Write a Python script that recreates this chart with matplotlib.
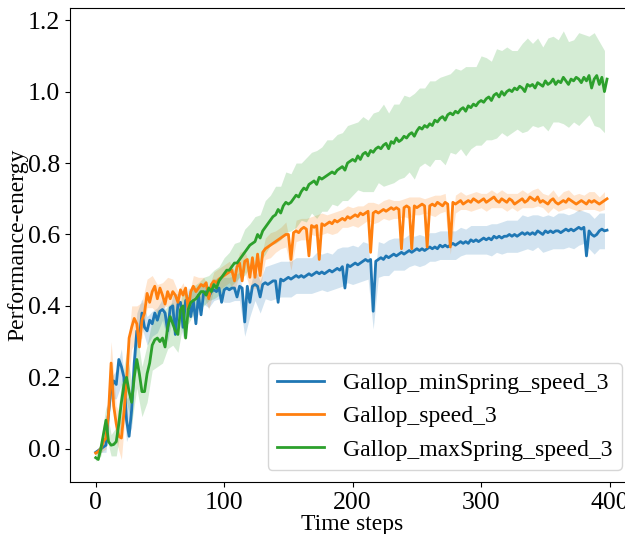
import numpy as np
import matplotlib
matplotlib.use("Agg")
import matplotlib.pyplot as plt

plt.rcParams["font.family"] = ["Liberation Serif", "DejaVu Serif"]
plt.rcParams["font.size"] = 17

# Evaluation every 2 time steps (t = 0, 2, ..., 398)
steps = np.arange(0, 400, 2)

min_spring_mean = [
    -0.01, -0.005, 0.0, 0.005, 0.01, 0.1, 0.17, 0.19, 0.18, 0.25,
    0.23, 0.2, 0.08, 0.035, 0.11, 0.24, 0.33, 0.31, 0.38, 0.34,
    0.33, 0.36, 0.35, 0.38, 0.36, 0.385, 0.39, 0.38, 0.33, 0.395,
    0.4, 0.32, 0.405, 0.41, 0.34, 0.415, 0.42, 0.37, 0.415, 0.35,
    0.43, 0.375, 0.435, 0.44, 0.425, 0.44, 0.445, 0.44, 0.45, 0.41,
    0.445, 0.45, 0.445, 0.45, 0.45, 0.425, 0.455, 0.45, 0.355, 0.455,
    0.41, 0.455, 0.46, 0.455, 0.425, 0.46, 0.465, 0.46, 0.465, 0.47,
    0.47, 0.41, 0.475, 0.47, 0.475, 0.48, 0.475, 0.48, 0.485, 0.48,
    0.485, 0.48, 0.485, 0.49, 0.485, 0.49, 0.495, 0.49, 0.495, 0.49,
    0.495, 0.5, 0.495, 0.5, 0.505, 0.5, 0.51, 0.45, 0.515, 0.51,
    0.515, 0.52, 0.515, 0.52, 0.525, 0.53, 0.525, 0.53, 0.385, 0.525,
    0.53, 0.535, 0.53, 0.54, 0.535, 0.54, 0.545, 0.54, 0.545, 0.55,
    0.545, 0.55, 0.555, 0.55, 0.555, 0.56, 0.555, 0.56, 0.555, 0.56,
    0.565, 0.56, 0.565, 0.56, 0.57, 0.565, 0.57, 0.565, 0.57, 0.575,
    0.57, 0.575, 0.58, 0.575, 0.58, 0.575, 0.585, 0.58, 0.585, 0.58,
    0.585, 0.59, 0.585, 0.59, 0.585, 0.595, 0.59, 0.595, 0.59, 0.595,
    0.595, 0.6, 0.595, 0.6, 0.595, 0.6, 0.605, 0.6, 0.605, 0.6,
    0.605, 0.6, 0.61, 0.605, 0.6, 0.61, 0.605, 0.61, 0.605, 0.61,
    0.61, 0.605, 0.61, 0.615, 0.61, 0.615, 0.61, 0.615, 0.62, 0.615,
    0.62, 0.54, 0.61, 0.6, 0.595, 0.6, 0.61, 0.615, 0.61, 0.612,
]

speed_mean = [
    -0.012, -0.008, 0.0, 0.02, 0.03, 0.1, 0.24, 0.12, 0.07, 0.035,
    0.03, 0.1, 0.19, 0.31, 0.34, 0.365, 0.35, 0.285, 0.36, 0.38,
    0.435, 0.41, 0.44, 0.455, 0.42, 0.45, 0.43, 0.405, 0.44, 0.42,
    0.44, 0.43, 0.41, 0.445, 0.43, 0.45, 0.39, 0.44, 0.455, 0.44,
    0.45, 0.46, 0.455, 0.465, 0.42, 0.46, 0.47, 0.465, 0.475, 0.48,
    0.485, 0.49, 0.495, 0.5, 0.47, 0.51, 0.52, 0.47, 0.525, 0.53,
    0.48, 0.535, 0.48, 0.545, 0.485, 0.55, 0.56, 0.565, 0.57, 0.575,
    0.58, 0.585, 0.59, 0.595, 0.6, 0.6, 0.53, 0.605, 0.61, 0.605,
    0.615, 0.62, 0.615, 0.54, 0.625, 0.62, 0.625, 0.53, 0.63, 0.625,
    0.63, 0.635, 0.63, 0.64, 0.635, 0.64, 0.645, 0.64, 0.65, 0.645,
    0.65, 0.655, 0.65, 0.66, 0.655, 0.66, 0.665, 0.55, 0.66, 0.665,
    0.66, 0.665, 0.67, 0.665, 0.67, 0.675, 0.67, 0.675, 0.67, 0.56,
    0.675, 0.68, 0.675, 0.56, 0.68, 0.675, 0.68, 0.685, 0.68, 0.565,
    0.68, 0.685, 0.68, 0.69, 0.685, 0.68, 0.69, 0.685, 0.565, 0.69,
    0.685, 0.69, 0.695, 0.685, 0.69, 0.695, 0.69, 0.7, 0.695, 0.69,
    0.695, 0.7, 0.69, 0.695, 0.7, 0.705, 0.695, 0.69, 0.7, 0.695,
    0.69, 0.7, 0.695, 0.685, 0.69, 0.695, 0.7, 0.69, 0.695, 0.705,
    0.7, 0.695, 0.705, 0.69, 0.695, 0.69, 0.685, 0.695, 0.7, 0.69,
    0.685, 0.69, 0.695, 0.69, 0.7, 0.695, 0.69, 0.685, 0.69, 0.695,
    0.69, 0.685, 0.695, 0.69, 0.695, 0.69, 0.685, 0.69, 0.695, 0.7,
]

max_spring_mean = [
    -0.025, -0.03, 0.0, 0.04, 0.08, 0.02, 0.01, 0.012, 0.02, 0.07,
    0.13, 0.18, 0.2, 0.16, 0.13, 0.2, 0.25, 0.21, 0.16, 0.16,
    0.21, 0.24, 0.29, 0.305, 0.31, 0.3, 0.31, 0.285, 0.34, 0.37,
    0.35, 0.33, 0.32, 0.39, 0.4, 0.31, 0.39, 0.41, 0.415, 0.42,
    0.43, 0.44, 0.44, 0.43, 0.45, 0.44, 0.46, 0.45, 0.47, 0.48,
    0.49, 0.5, 0.5, 0.51, 0.52, 0.52, 0.53, 0.54, 0.55, 0.56,
    0.57, 0.575, 0.58, 0.6, 0.59, 0.61, 0.62, 0.63, 0.64, 0.65,
    0.655, 0.67, 0.66, 0.68, 0.69, 0.685, 0.69, 0.7, 0.71, 0.705,
    0.72, 0.73, 0.725, 0.74, 0.745, 0.75, 0.74, 0.76, 0.755, 0.76,
    0.765, 0.77, 0.775, 0.77, 0.78, 0.785, 0.79, 0.78, 0.8, 0.805,
    0.81, 0.805, 0.82, 0.81, 0.825, 0.83, 0.82, 0.835, 0.83, 0.84,
    0.845, 0.84, 0.85, 0.855, 0.84, 0.86, 0.855, 0.87, 0.86, 0.865,
    0.875, 0.87, 0.88, 0.885, 0.875, 0.89, 0.9, 0.895, 0.905, 0.9,
    0.91, 0.905, 0.92, 0.915, 0.925, 0.93, 0.92, 0.935, 0.94, 0.935,
    0.945, 0.94, 0.95, 0.955, 0.945, 0.96, 0.955, 0.965, 0.96, 0.97,
    0.975, 0.97, 0.98, 0.985, 0.975, 0.99, 0.995, 0.985, 1.0, 0.99,
    1.0, 1.005, 1.0, 1.01, 1.005, 1.015, 1.01, 1.0, 1.02, 1.015,
    1.02, 1.01, 1.025, 1.02, 1.015, 1.03, 1.02, 1.025, 1.035, 1.02,
    1.03, 1.025, 1.04, 1.03, 1.02, 1.035, 1.03, 1.04, 1.035, 1.025,
    1.04, 1.03, 1.045, 1.01, 1.035, 1.045, 1.02, 1.04, 1.0, 1.035,
]

# Spread across seeds, every 4 time steps (t = 0, 4, ..., 396)
min_spring_spread = [
    0.005, 0.01, 0.02, 0.03, 0.04, 0.05, 0.06, 0.05, 0.05, 0.04,
    0.04, 0.035, 0.035, 0.03, 0.03, 0.03, 0.03, 0.03, 0.03, 0.03,
    0.03, 0.03, 0.03, 0.03, 0.03, 0.035, 0.035, 0.035, 0.04, 0.04,
    0.04, 0.045, 0.045, 0.045, 0.05, 0.05, 0.05, 0.05, 0.05, 0.05,
    0.05, 0.05, 0.05, 0.055, 0.05, 0.055, 0.05, 0.055, 0.055, 0.05,
    0.055, 0.05, 0.055, 0.05, 0.05, 0.05, 0.045, 0.05, 0.045, 0.045,
    0.045, 0.045, 0.04, 0.045, 0.04, 0.04, 0.04, 0.04, 0.04, 0.04,
    0.04, 0.04, 0.035, 0.04, 0.04, 0.04, 0.04, 0.045, 0.04, 0.045,
    0.045, 0.045, 0.045, 0.05, 0.045, 0.05, 0.045, 0.05, 0.05, 0.045,
    0.05, 0.05, 0.045, 0.05, 0.05, 0.045, 0.05, 0.05, 0.05, 0.05,
]

speed_spread = [
    0.005, 0.01, 0.03, 0.06, 0.05, 0.06, 0.05, 0.06, 0.05, 0.05,
    0.04, 0.045, 0.04, 0.035, 0.04, 0.035, 0.03, 0.035, 0.03, 0.03,
    0.03, 0.025, 0.03, 0.025, 0.03, 0.03, 0.03, 0.03, 0.03, 0.03,
    0.03, 0.03, 0.035, 0.03, 0.035, 0.03, 0.03, 0.035, 0.03, 0.03,
    0.03, 0.03, 0.025, 0.03, 0.03, 0.025, 0.03, 0.03, 0.025, 0.03,
    0.025, 0.03, 0.025, 0.025, 0.03, 0.025, 0.025, 0.03, 0.025, 0.025,
    0.025, 0.03, 0.025, 0.025, 0.02, 0.025, 0.03, 0.025, 0.025, 0.02,
    0.025, 0.025, 0.02, 0.025, 0.025, 0.02, 0.025, 0.025, 0.02, 0.025,
    0.025, 0.02, 0.025, 0.025, 0.02, 0.025, 0.025, 0.02, 0.025, 0.025,
    0.02, 0.025, 0.025, 0.02, 0.025, 0.02, 0.025, 0.025, 0.02, 0.025,
]

max_spring_spread = [
    0.01, 0.02, 0.04, 0.03, 0.04, 0.06, 0.07, 0.06, 0.08, 0.07,
    0.08, 0.07, 0.08, 0.07, 0.06, 0.06, 0.05, 0.05, 0.04, 0.04,
    0.035, 0.04, 0.035, 0.04, 0.04, 0.045, 0.05, 0.055, 0.05, 0.065,
    0.06, 0.07, 0.065, 0.075, 0.07, 0.08, 0.075, 0.085, 0.08, 0.09,
    0.08, 0.09, 0.085, 0.095, 0.09, 0.1, 0.09, 0.1, 0.095, 0.105,
    0.1, 0.095, 0.105, 0.1, 0.11, 0.1, 0.115, 0.1, 0.11, 0.105,
    0.115, 0.105, 0.12, 0.11, 0.105, 0.12, 0.11, 0.115, 0.125, 0.11,
    0.12, 0.11, 0.125, 0.115, 0.11, 0.125, 0.115, 0.11, 0.125, 0.115,
    0.125, 0.115, 0.11, 0.125, 0.13, 0.115, 0.125, 0.11, 0.13, 0.12,
    0.115, 0.13, 0.12, 0.115, 0.13, 0.12, 0.11, 0.13, 0.12, 0.115,
]

series = [
    ("Gallop_minSpring_speed_3", min_spring_mean, min_spring_spread, "#1f77b4"),
    ("Gallop_speed_3", speed_mean, speed_spread, "#ff7f0e"),
    ("Gallop_maxSpring_speed_3", max_spring_mean, max_spring_spread, "#2ca02c"),
]

fig = plt.figure(figsize=(6.25, 5.34), dpi=100)
ax = fig.add_axes([0.112, 0.0974, 0.9024, 0.8876])

band_steps = steps[::2]
for label, mean, spread, color in series:
    mean = np.asarray(mean)
    spread = np.asarray(spread)
    centre = mean[::2]
    ax.fill_between(band_steps, centre - spread, centre + spread,
                    color=color, alpha=0.2, linewidth=0)
    ax.plot(steps, mean, color=color, linewidth=2.0, label=label)

ax.set_xlim(-20, 419)
ax.set_ylim(-0.093, 1.234)
ax.set_xticks([0, 100, 200, 300, 400])
ax.set_yticks([0.0, 0.2, 0.4, 0.6, 0.8, 1.0, 1.2])
ax.set_yticklabels(["0.0", "0.2", "0.4", "0.6", "0.8", "1.0", "1.2"])
ax.tick_params(labelsize=18.5)
ax.set_xlabel("Time steps", labelpad=0)
ax.set_ylabel("Performance-energy", labelpad=0)
ax.legend(loc="lower right", fontsize=17, handlelength=2.0)

fig.savefig("out.png", dpi=100)
